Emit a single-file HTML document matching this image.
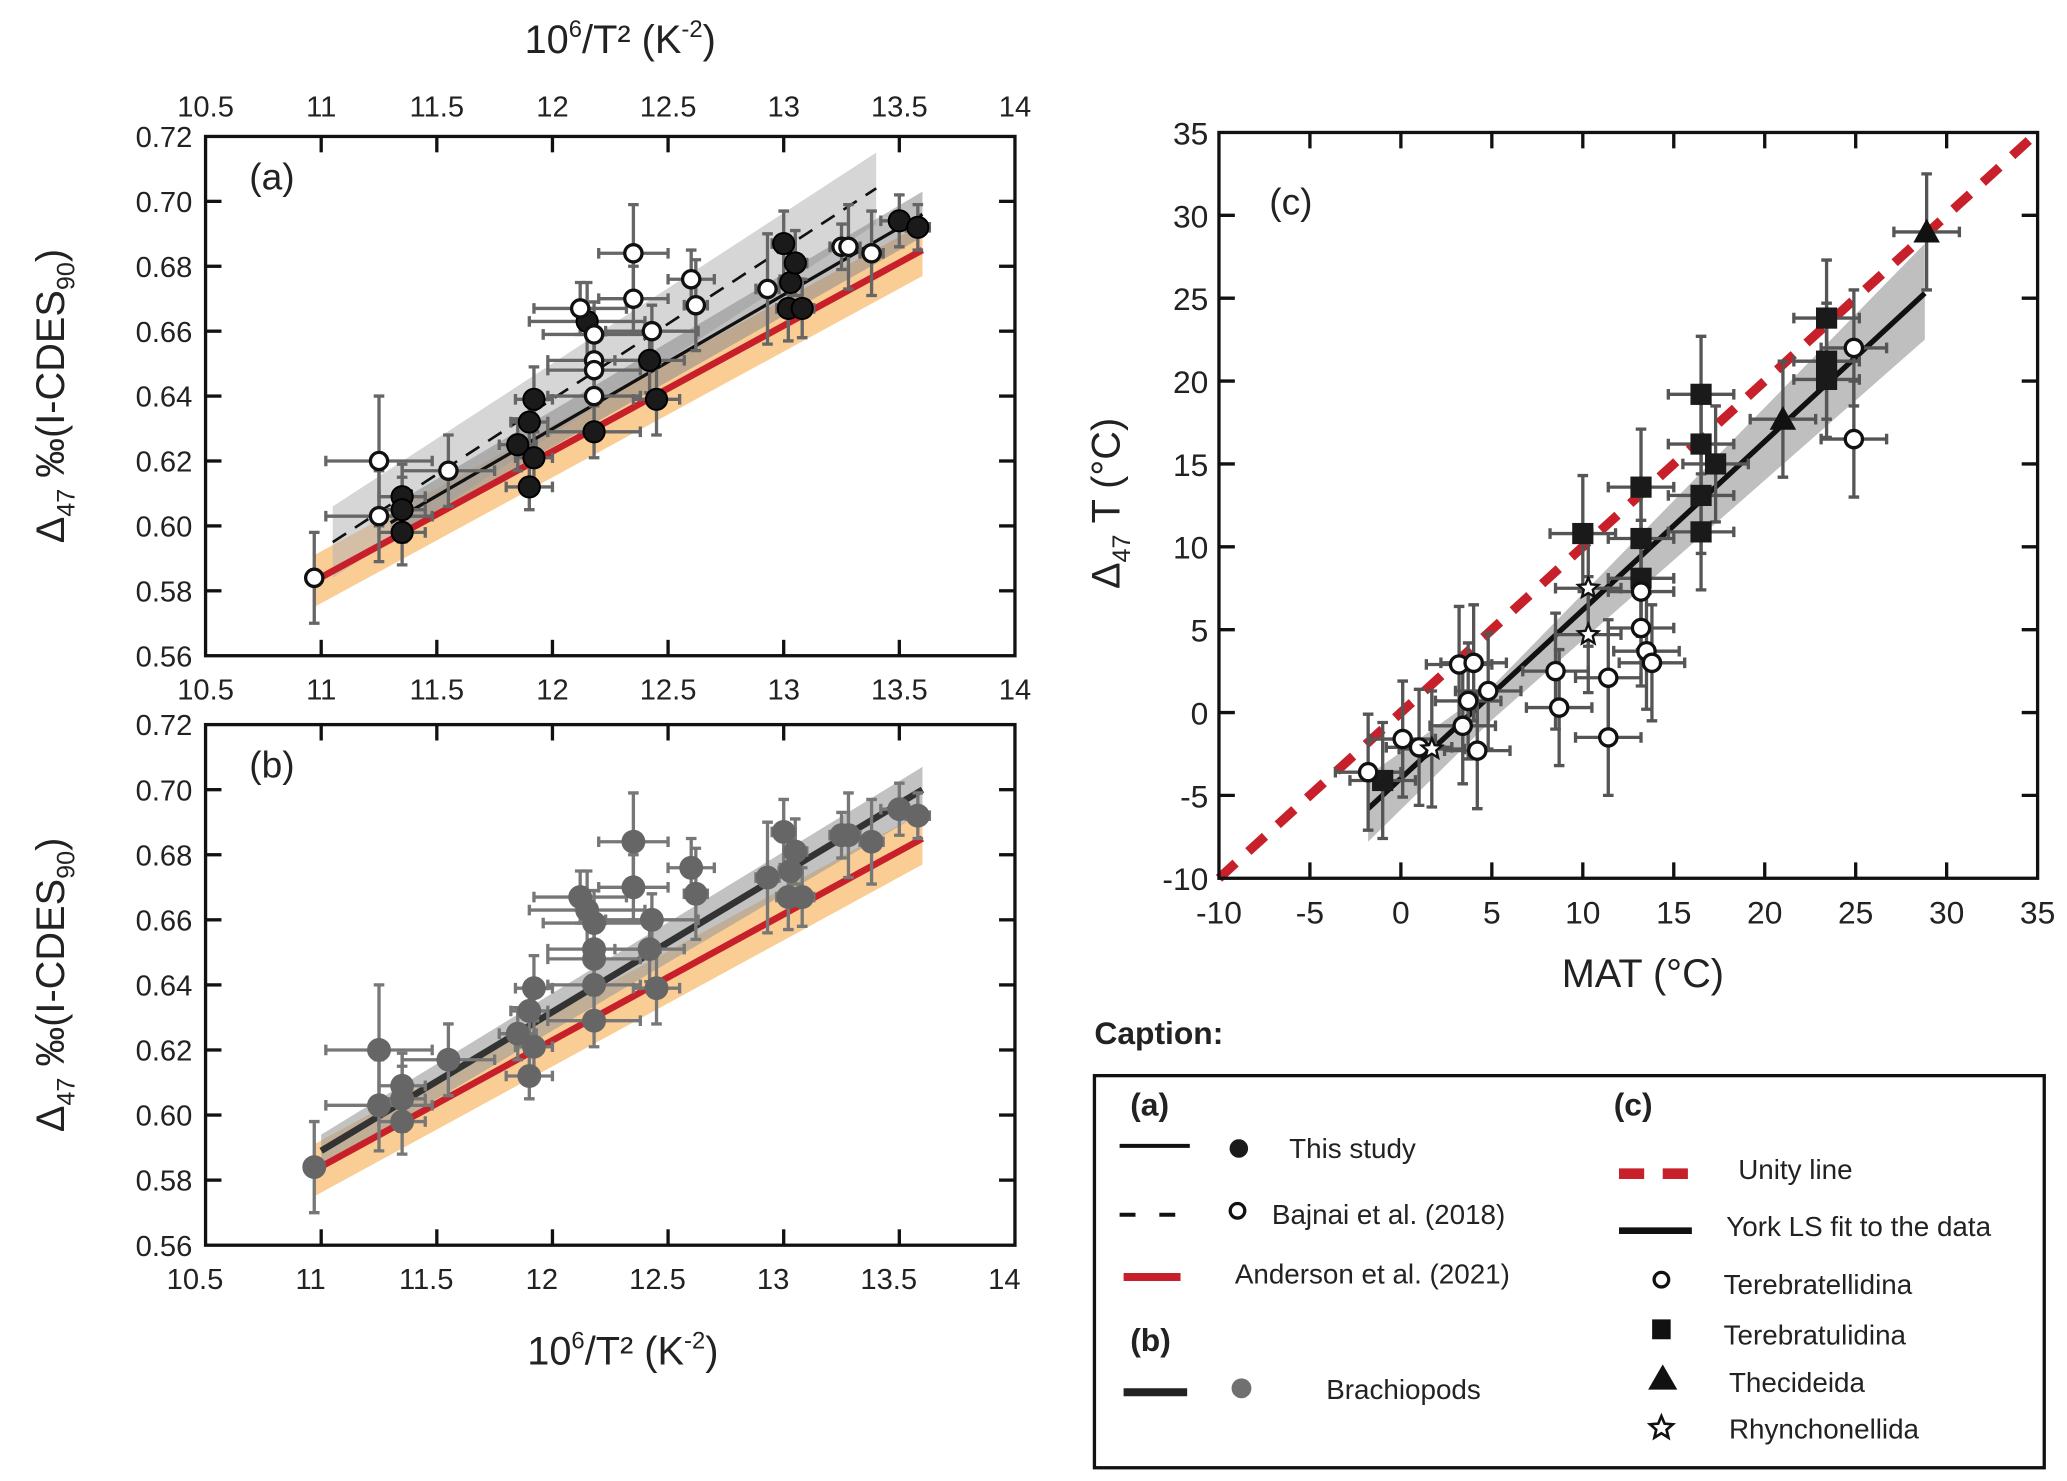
<!DOCTYPE html>
<html><head><meta charset="utf-8"><style>
html,body{margin:0;padding:0;background:#fff}
svg{display:block}
text{font-family:"Liberation Sans Narrow","Liberation Sans",sans-serif;fill:#222}
</style></head><body>
<svg id="fig" width="2067" height="1481" viewBox="0 0 1560 1118" xmlns="http://www.w3.org/2000/svg"></svg>
<script>
// ---- Panel (a)/(b) data ----
const studyX=[11.35,11.35,11.35,11.85,11.9,11.92,11.92,11.9,12.15,12.18,12.42,12.45,13.0,13.02,13.03,13.05,13.08,13.5,13.58];
const studyY=[0.609,0.605,0.598,0.625,0.632,0.639,0.621,0.612,0.663,0.629,0.651,0.639,0.687,0.667,0.675,0.681,0.667,0.694,0.692];
const studyXe=[0.1,0.1,0.1,0.08,0.08,0.08,0.08,0.1,0.25,0.2,0.15,0.1,0.05,0.05,0.05,0.05,0.05,0.08,0.05];
const studyYe=[0.01,0.01,0.01,0.008,0.008,0.01,0.008,0.007,0.012,0.008,0.01,0.011,0.01,0.01,0.01,0.01,0.009,0.008,0.007];
const bajX=[10.97,11.25,11.25,11.55,12.12,12.18,12.18,12.18,12.18,12.35,12.35,12.43,12.6,12.62,12.93,13.25,13.28,13.38];
const bajY=[0.584,0.620,0.603,0.617,0.667,0.659,0.651,0.648,0.640,0.684,0.670,0.660,0.676,0.668,0.673,0.686,0.686,0.684];
const bajXe=[0.02,0.23,0.23,0.2,0.2,0.22,0.2,0.2,0.2,0.15,0.15,0.2,0.1,0.05,0.05,0.05,0.05,0.05];
const bajYe=[0.014,0.02,0.014,0.011,0.008,0.01,0.01,0.01,0.01,0.015,0.01,0.008,0.009,0.014,0.017,0.007,0.013,0.013];
const xTicksAB=[10.5,11,11.5,12,12.5,13,13.5,14];
const yTicksAB=[0.56,0.58,0.60,0.62,0.64,0.66,0.68,0.70,0.72];
// fit lines [x0,y0,x1,y1]
const fitStudy=[11.3,0.601,13.6,0.696];
const fitBaj=[11.05,0.595,13.4,0.704];
const fitAnd=[10.97,0.583,13.6,0.685];
const fitAll=[11.0,0.589,13.6,0.700];
// ---- Panel (c) data ----
const ciX=[-1.8,0.1,1.0,3.2,4.0,3.7,3.4,4.2,4.8,8.5,8.7,11.4,11.4,13.2,13.2,13.5,13.8,24.9,24.9];
const ciY=[-3.6,-1.6,-2.1,2.9,3.0,0.7,-0.8,-2.3,1.3,2.5,0.3,2.1,-1.5,7.3,5.1,3.7,3.0,22.0,16.5];
const sqX=[-1.0,10.0,13.2,13.2,13.2,16.5,16.5,16.5,16.5,17.3,23.4,23.4,23.4];
const sqY=[-4.1,10.8,13.6,10.5,8.1,19.2,16.2,13.1,10.9,15.0,23.8,21.2,20.1];
const trX=[21.0,28.9];
const trY=[17.7,29.0];
const stX=[1.7,10.3,10.3];
const stY=[-2.2,7.5,4.7];
const xTicksC=[-10,-5,0,5,10,15,20,25,30,35];
const yTicksC=[-10,-5,0,5,10,15,20,25,30,35];
const fitC=[-1.8,-5.8,28.8,25.3];

const NS="http://www.w3.org/2000/svg";
const svg=document.getElementById('fig');
function el(tag,attrs,parent,txt){const e=document.createElementNS(NS,tag);for(const k in attrs)e.setAttribute(k,attrs[k]);if(txt!==undefined)e.textContent=txt;(parent||svg).appendChild(e);return e;}

function axesAB(top,bottom,label,labelShift,topLabels){
  const L=155,R=766;
  const sx=v=>L+(v-10.5)/3.5*(R-L);
  const sy=v=>bottom-(v-0.56)/0.16*(bottom-top);
  const g=el('g',{});
  
  
  return {sx,sy,g,L,R,top,bottom,finish(){
    el('rect',{x:L,y:top,width:R-L,height:bottom-top,fill:'none',stroke:'#111','stroke-width':2.5},g);
    xTicksAB.forEach(t=>{const x=sx(t);
      if(t>10.5&&t<14){el('line',{x1:x,y1:bottom,x2:x,y2:bottom-12,stroke:'#111','stroke-width':2.5},g);el('line',{x1:x,y1:top,x2:x,y2:top+12,stroke:'#111','stroke-width':2.5},g);}
      const tl=el('text',{x:x-labelShift,y:bottom+33,'font-size':22,'text-anchor':'middle'},g,String(t));
      
      if(topLabels){const tt=el('text',{x:x,y:top-15,'font-size':22,'text-anchor':'middle'},g,String(t));
        }
    });
    yTicksAB.forEach(t=>{const y=sy(t);
      if(t>0.56&&t<0.72){el('line',{x1:L,y1:y,x2:L+12,y2:y,stroke:'#111','stroke-width':2.5},g);el('line',{x1:R,y1:y,x2:R-12,y2:y,stroke:'#111','stroke-width':2.5},g);}
      const tl=el('text',{x:L-10,y:y+8,'font-size':22,'text-anchor':'end'},g,t.toFixed(2));
      
    });
    const pl=el('text',{x:L+33,y:top+40,'font-size':28},g,'('+label+')');
    
    const yt=el('text',{transform:`translate(48,${(top+bottom)/2}) rotate(-90)`,'font-size':30,'text-anchor':'middle','font-family':'Liberation Sans, sans-serif'},g);
    
    yt.innerHTML='Δ<tspan font-size="19" dy="8">47</tspan><tspan dy="-8"> ‰(I-CDES</tspan><tspan font-size="19" dy="8">90</tspan><tspan dy="-8">)</tspan>';
  }};
}
function band(ax,f,w0,w1,color,op,name){
  const [x0,y0,x1,y1]=f;
  const p=`${ax.sx(x0)},${ax.sy(y0+w0)} ${ax.sx(x1)},${ax.sy(y1+w1)} ${ax.sx(x1)},${ax.sy(y1-w1)} ${ax.sx(x0)},${ax.sy(y0-w0)}`;
  const e=el('polygon',{points:p,fill:color,'fill-opacity':op},ax.g);
  
}
function fline(ax,f,color,w,dash,name){
  const e=el('line',{x1:ax.sx(f[0]),y1:ax.sy(f[1]),x2:ax.sx(f[2]),y2:ax.sy(f[3]),stroke:color,'stroke-width':w},ax.g);
  if(dash)e.setAttribute('stroke-dasharray',dash);
  
}
function errbar(ax,x,y,xe,ye,color){
  const g=ax.g,c=4;
  const X=ax.sx(x),Y=ax.sy(y),x0=ax.sx(x-xe),x1=ax.sx(x+xe),y0=ax.sy(y-ye),y1=ax.sy(y+ye);
  const e=el('path',{d:`M${x0},${Y}H${x1}M${x0},${Y-c}V${Y+c}M${x1},${Y-c}V${Y+c}M${X},${y0}V${y1}M${X-c},${y0}H${X+c}M${X-c},${y1}H${X+c}`,stroke:color,'stroke-width':2.5,fill:'none'},g);
  
}
function dot(ax,x,y,fill,stroke,sw,r,name){
  const e=el('circle',{cx:ax.sx(x),cy:ax.sy(y),r:r,fill:fill,stroke:stroke,'stroke-width':sw},ax.g);
  
}

// Title top
const tt=el('text',{x:468,y:40,'font-size':30,'text-anchor':'middle','font-family':'Liberation Sans, sans-serif'});

tt.innerHTML='10<tspan font-size="18" dy="-12">6</tspan><tspan dy="12">/T²  (K</tspan><tspan font-size="18" dy="-12">-2</tspan><tspan dy="12">)</tspan>';

// Panel a
const A=axesAB(103,495,'a',0,true);
band(A,fitAnd,0.008,0.008,'#f7b25a',0.65,'anderson-band');
band(A,fitBaj,0.011,0.011,'#b5b5b5',0.55,'bajnai-band');
band(A,fitStudy,0.005,0.007,'#8a8a8a',0.55,'study-band');
fline(A,fitAnd,'#c8202a',5,null,'anderson-line');
fline(A,fitStudy,'#111',2.5,null,'study-fit-line');
fline(A,fitBaj,'#111',2,'12 8','bajnai-fit-line');
studyX.forEach((x,i)=>errbar(A,x,studyY[i],studyXe[i],studyYe[i],'#666'));
bajX.forEach((x,i)=>errbar(A,x,bajY[i],bajXe[i],bajYe[i],'#666'));
studyX.forEach((x,i)=>dot(A,x,studyY[i],'#1a1a1a','#000',1.5,8,'study-point'));
bajX.forEach((x,i)=>dot(A,x,bajY[i],'#fff','#111',2.5,6.5,'bajnai-point'));
A.finish();

// Panel b
const B=axesAB(547,940,'b',8,false);
band(B,fitAnd,0.008,0.008,'#f7b25a',0.65,'anderson-band');
band(B,fitAll,0.005,0.007,'#9a9a9a',0.6,'brachiopod-band');
fline(B,fitAnd,'#c8202a',5,null,'anderson-line');
fline(B,fitAll,'#333',5,null,'brachiopod-fit-line');
const allX=studyX.concat(bajX),allY=studyY.concat(bajY),allXe=studyXe.concat(bajXe),allYe=studyYe.concat(bajYe);
allX.forEach((x,i)=>errbar(B,x,allY[i],allXe[i],allYe[i],'#777'));
allX.forEach((x,i)=>dot(B,x,allY[i],'#666','#666',1,8.5,'brachiopod-point'));
B.finish();
const bt=el('text',{x:470,y:1030,'font-size':30,'text-anchor':'middle','font-family':'Liberation Sans, sans-serif'});

bt.innerHTML='10<tspan font-size="18" dy="-12">6</tspan><tspan dy="12">/T²  (K</tspan><tspan font-size="18" dy="-12">-2</tspan><tspan dy="12">)</tspan>';

// Panel c
(function(){
  const L=920,R=1538,T=100,Bm=663;
  const sx=v=>L+(v+10)/45*(R-L), sy=v=>Bm-(v+10)/45*(Bm-T);
  const g=el('g',{});
  
  const C={sx,sy,g};
  const [x0,y0,x1,y1]=fitC;
  const bp=`${sx(x0)},${sy(y0+2)} ${sx(5)},${sy(0.55+1)} ${sx(x1)},${sy(y1+3)} ${sx(x1)},${sy(y1-2.8)} ${sx(5)},${sy(0.55-1)} ${sx(x0)},${sy(y0-2)}`;
  const b=el('polygon',{points:bp,fill:'#aaa','fill-opacity':0.75},g);
  
  const u=el('line',{x1:sx(-10),y1:sy(-10),x2:sx(35),y2:sy(35),stroke:'#c8202a','stroke-width':7,'stroke-dasharray':'17 13'},g);
  
  const f=el('line',{x1:sx(x0),y1:sy(y0),x2:sx(x1),y2:sy(y1),stroke:'#111','stroke-width':4},g);
  
  const eb=(x,y)=>errbar(C,x,y,1.8,3.5,'#555');
  ciX.forEach((x,i)=>eb(x,ciY[i]));sqX.forEach((x,i)=>eb(x,sqY[i]));trX.forEach((x,i)=>eb(x,trY[i]));stX.forEach((x,i)=>eb(x,stY[i]));
  sqX.forEach((x,i)=>{const e=el('rect',{x:sx(x)-8,y:sy(sqY[i])-8,width:16,height:16,fill:'#1a1a1a'},g);
    });
  ciX.forEach((x,i)=>dot(C,x,ciY[i],'#fff','#111',2.5,6.5,'terebratellidina-point'));
  trX.forEach((x,i)=>{const X=sx(x),Y=sy(trY[i]);const e=el('polygon',{points:`${X},${Y-10} ${X+10},${Y+8} ${X-10},${Y+8}`,fill:'#111'},g);
    });
  const star=(X,Y,r)=>{let p=[];for(let k=0;k<10;k++){const a=-Math.PI/2+k*Math.PI/5,rr=k%2?r*0.45:r;p.push((X+rr*Math.cos(a)).toFixed(1)+','+(Y+rr*Math.sin(a)).toFixed(1));}return p.join(' ');};
  stX.forEach((x,i)=>{const e=el('polygon',{points:star(sx(x),sy(stY[i]),8),fill:'#fff',stroke:'#111','stroke-width':1.8},g);
    });
  el('rect',{x:L,y:T,width:R-L,height:Bm-T,fill:'none',stroke:'#111','stroke-width':2.5},g);
  xTicksC.forEach(t=>{const x=sx(t);
    if(t>-10&&t<35){el('line',{x1:x,y1:Bm,x2:x,y2:Bm-12,stroke:'#111','stroke-width':2.5},g);el('line',{x1:x,y1:T,x2:x,y2:T+12,stroke:'#111','stroke-width':2.5},g);}
    const e=el('text',{x:x,y:Bm+34,'font-size':24,'text-anchor':'middle','font-family':'Liberation Sans, sans-serif'},g,String(t));
    });
  yTicksC.forEach(t=>{const y=sy(t);
    if(t>-10&&t<35){el('line',{x1:L,y1:y,x2:L+12,y2:y,stroke:'#111','stroke-width':2.5},g);el('line',{x1:R,y1:y,x2:R-12,y2:y,stroke:'#111','stroke-width':2.5},g);}
    const e=el('text',{x:L-8,y:y+9,'font-size':24,'text-anchor':'end','font-family':'Liberation Sans, sans-serif'},g,String(t));
    });
  const pl=el('text',{x:958,y:162,'font-size':28},g,'(c)');
  
  const xt=el('text',{x:1240,y:745,'font-size':30,'text-anchor':'middle','font-family':'Liberation Sans, sans-serif'},g,'MAT (°C)');
  
  const yt=el('text',{transform:`translate(845,380) rotate(-90)`,'font-size':30,'text-anchor':'middle','font-family':'Liberation Sans, sans-serif'},g);
  
  yt.innerHTML='Δ<tspan font-size="19" dy="8">47</tspan><tspan dy="-8"> T (°C)</tspan>';
})();

// Caption
(function(){
  const g=el('g',{});
  
  const t=(x,y,s,txt,bold,name)=>{const e=el('text',{x:x,y:y,'font-size':s,'font-weight':bold?'bold':'normal'},g,txt);return e;};
  t(826,788,24,'Caption:',true,'caption-title');
  el('rect',{x:826,y:812,width:717,height:296,fill:'none',stroke:'#111','stroke-width':2.5},g);
  t(853,842,24,'(a)',true,'legend-heading-a');
  t(1218,842,24,'(c)',true,'legend-heading-c');
  t(853,1020,24,'(b)',true,'legend-heading-b');
  el('line',{x1:845,y1:865,x2:898,y2:865,stroke:'#111','stroke-width':3},g);
  el('circle',{cx:935,cy:867,r:7,fill:'#1a1a1a'},g);
  t(973,874,21,'This study',false,'legend-entry-this-study');
  el('line',{x1:845,y1:917,x2:898,y2:917,stroke:'#111','stroke-width':3,'stroke-dasharray':'12 18'},g);
  el('circle',{cx:934,cy:914,r:5.5,fill:'#fff',stroke:'#111','stroke-width':2.5},g);
  t(960,924,21,'Bajnai et al. (2018)',false,'legend-entry-bajnai');
  el('line',{x1:848,y1:964,x2:891,y2:964,stroke:'#c8202a','stroke-width':6},g);
  t(932,969,21,'Anderson et al. (2021)',false,'legend-entry-anderson');
  el('line',{x1:848,y1:1051,x2:896,y2:1051,stroke:'#222','stroke-width':6},g);
  el('circle',{cx:937,cy:1048,r:7.5,fill:'#707070'},g);
  t(1001,1056,21,'Brachiopods',false,'legend-entry-brachiopods');
  el('line',{x1:1222,y1:886,x2:1278,y2:886,stroke:'#c8202a','stroke-width':8,'stroke-dasharray':'19 14'},g);
  t(1312,890,21,'Unity line',false,'legend-entry-unity-line');
  el('line',{x1:1222,y1:929,x2:1277,y2:929,stroke:'#111','stroke-width':5},g);
  t(1303,933,21,'York LS fit to the data',false,'legend-entry-york-fit');
  el('circle',{cx:1254,cy:966,r:5.5,fill:'#fff',stroke:'#111','stroke-width':2.5},g);
  t(1301,977,21,'Terebratellidina',false,'legend-entry-terebratellidina');
  el('rect',{x:1247,y:996,width:14,height:15,fill:'#111'},g);
  t(1301,1015,21,'Terebratulidina',false,'legend-entry-terebratulidina');
  el('polygon',{points:'1255,1030 1266,1049 1244,1049',fill:'#111'},g);
  t(1305,1051,21,'Thecideida',false,'legend-entry-thecideida');
  const r=9,X=1254,Y=1078;let p=[];for(let k=0;k<10;k++){const a=-Math.PI/2+k*Math.PI/5,rr=k%2?r*0.45:r;p.push((X+rr*Math.cos(a)).toFixed(1)+','+(Y+rr*Math.sin(a)).toFixed(1));}
  el('polygon',{points:p.join(' '),fill:'#fff',stroke:'#111','stroke-width':2},g);
  t(1305,1086,21,'Rhynchonellida',false,'legend-entry-rhynchonellida');
})();
</script>
</body></html>
